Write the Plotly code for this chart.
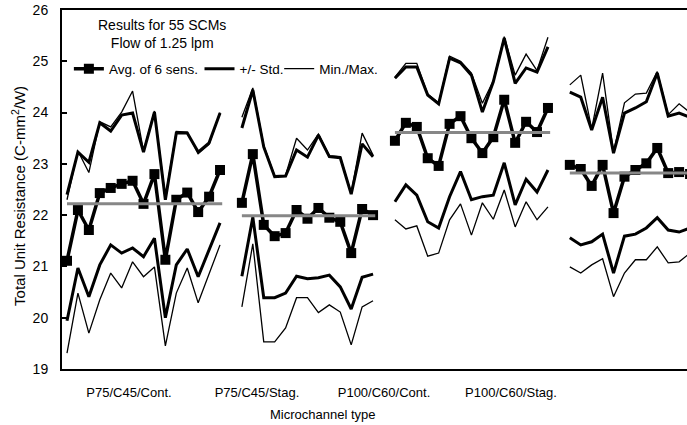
import plotly.graph_objects as go

# ---------------- data ----------------
group_labels = ["P75/C45/Cont.", "P75/C45/Stag.", "P100/C60/Cont.", "P100/C60/Stag."]

# P75/C45/Cont. (15 SCMs)
avg_g1 = [21.11, 22.10, 21.71, 22.43, 22.53, 22.61, 22.67, 22.22, 22.80, 21.13, 22.30, 22.44, 22.06, 22.36, 22.88]
std_hi_g1 = [22.40, 23.23, 23.03, 23.80, 23.64, 23.95, 23.99, 23.23, 24.01, 22.30, 23.60, 23.60, 23.23, 23.41, 23.99]
std_lo_g1 = [19.94, 20.97, 20.41, 21.03, 21.42, 21.26, 21.36, 21.19, 21.55, 20.00, 21.03, 21.34, 20.80, 21.32, 21.85]
max_g1 = [22.30, 23.25, 22.83, 23.82, 23.72, 24.01, 24.42, 23.25, 24.03, 22.35, 23.63, 23.62, 23.20, 23.38, 24.00]
min_g1 = [19.31, 20.48, 19.70, 20.35, 20.87, 20.58, 21.09, 20.80, 20.99, 19.45, 20.48, 20.97, 20.29, 20.84, 21.42]

# P75/C45/Stag. (13 SCMs)
avg_g2 = [22.24, 23.19, 21.81, 21.59, 21.65, 22.10, 21.93, 22.14, 21.95, 21.87, 21.26, 22.12, 22.00]
std_hi_g2 = [23.70, 24.44, 23.33, 22.75, 22.76, 23.27, 23.13, 23.56, 23.14, 23.12, 22.41, 23.39, 23.14]
std_lo_g2 = [20.81, 21.96, 20.39, 20.39, 20.48, 20.81, 20.76, 20.78, 20.83, 20.60, 20.17, 20.79, 20.85]
max_g2 = [23.91, 24.48, 23.36, 22.77, 22.78, 23.50, 23.27, 23.58, 23.16, 23.14, 22.43, 23.60, 23.17]
min_g2 = [20.21, 21.44, 19.53, 19.53, 19.80, 20.39, 20.39, 20.10, 20.25, 20.11, 19.47, 20.21, 20.33]

# P100/C60/Cont. (15 SCMs)
avg_g3 = [23.45, 23.80, 23.72, 23.11, 22.96, 23.78, 23.93, 23.50, 23.21, 23.52, 24.25, 23.41, 23.82, 23.62, 24.09]
std_hi_g3 = [24.67, 24.89, 24.89, 24.34, 24.17, 25.06, 24.97, 24.73, 24.01, 24.60, 25.45, 24.57, 24.87, 24.79, 25.28]
std_lo_g3 = [22.26, 22.59, 22.39, 21.87, 21.75, 22.36, 22.85, 22.30, 22.36, 22.39, 23.02, 22.20, 22.70, 22.45, 22.88]
max_g3 = [24.69, 24.96, 24.96, 24.36, 24.19, 25.10, 25.00, 24.77, 24.18, 24.62, 25.48, 24.73, 25.14, 24.82, 25.47]
min_g3 = [21.91, 21.73, 21.79, 21.20, 21.26, 21.91, 22.22, 21.61, 22.24, 21.92, 22.49, 21.77, 22.26, 21.91, 22.16]

# P100/C60/Stag. (12 SCMs)
avg_g4 = [22.98, 22.90, 22.57, 22.98, 22.04, 22.75, 22.88, 23.01, 23.31, 22.82, 22.84, 22.80]
std_hi_g4 = [24.40, 24.30, 23.66, 24.30, 23.21, 23.99, 24.09, 24.21, 24.77, 23.93, 23.99, 23.91]
std_lo_g4 = [21.56, 21.42, 21.48, 21.63, 20.87, 21.59, 21.63, 21.75, 21.95, 21.71, 21.67, 21.75]
max_g4 = [24.54, 24.73, 23.68, 24.77, 23.23, 24.19, 24.36, 24.38, 24.80, 23.96, 24.17, 24.00]
min_g4 = [20.99, 20.87, 21.03, 21.15, 20.41, 20.87, 21.13, 21.13, 21.38, 21.07, 21.09, 21.26]

# group mean of the averages (gray lines)
mean_groups = [22.22, 21.99, 23.61, 22.82]

# ---------------- build figure ----------------
group_start = [0, 16, 30, 46]   # sample index where each group starts (one empty slot between groups)


def concat(series):
    xs, ys = [], []
    for start, vals in zip(group_start, series):
        xs += [start + k for k in range(len(vals))] + [None]
        ys += list(vals) + [None]
    return xs, ys


FONT = "Liberation Sans, Arial, sans-serif"
fig = go.Figure()

thin = dict(color="black", width=1.3)
thick = dict(color="black", width=3)

x, y = concat([max_g1, max_g2, max_g3, max_g4])
fig.add_trace(go.Scatter(x=x, y=y, mode="lines", line=thin, name="Min./Max.",
                         legend="legend3"))
x, y = concat([min_g1, min_g2, min_g3, min_g4])
fig.add_trace(go.Scatter(x=x, y=y, mode="lines", line=thin, showlegend=False))

x, y = concat([std_hi_g1, std_hi_g2, std_hi_g3, std_hi_g4])
fig.add_trace(go.Scatter(x=x, y=y, mode="lines", line=thick, name="+/- Std.",
                         legend="legend2"))
x, y = concat([std_lo_g1, std_lo_g2, std_lo_g3, std_lo_g4])
fig.add_trace(go.Scatter(x=x, y=y, mode="lines", line=thick, showlegend=False))

x, y = concat([avg_g1, avg_g2, avg_g3, avg_g4])
fig.add_trace(go.Scatter(x=x, y=y, mode="lines+markers", name="Avg. of 6 sens.",
                         line=dict(color="black", width=3.5),
                         marker=dict(symbol="square", size=10, color="black"),
                         legend="legend"))

group_lens = [len(avg_g1), len(avg_g2), len(avg_g3), len(avg_g4)]
mx, my = [], []
for start, n, m in zip(group_start, group_lens, mean_groups):
    mx += [start, start + n - 1 + 0.2, None]
    my += [m, m, None]
fig.add_trace(go.Scatter(x=mx, y=my, mode="lines", line=dict(color="#878787", width=3),
                         showlegend=False))

leg_common = dict(orientation="h", y=0.836, xanchor="left", yanchor="middle",
                  font=dict(size=13.5, family=FONT), bgcolor="rgba(0,0,0,0)")

fig.update_layout(
    width=687, height=425,
    margin=dict(l=62, r=0, t=10, b=56),
    paper_bgcolor="white", plot_bgcolor="white",
    font=dict(family=FONT, color="black", size=13),
    showlegend=True,
    legend=dict(x=0.011, **leg_common),
    legend2=dict(x=0.220, **leg_common),
    legend3=dict(x=0.3475, **leg_common),
    xaxis=dict(range=[-0.457, 56.72], showgrid=False, zeroline=False,
               showline=True, linecolor="black", linewidth=2, mirror=True,
               ticks="", tickvals=[5.67, 17.38, 29.0, 40.62], ticktext=group_labels,
               tickfont=dict(size=13), ticklabelstandoff=10),
    yaxis=dict(range=[19, 26], dtick=1, showgrid=False, zeroline=False,
               showline=True, linecolor="black", linewidth=2, mirror=False,
               ticks="inside", ticklen=5, tickwidth=1.5, tickcolor="black",
               tickfont=dict(size=14), ticklabelstandoff=9),
    annotations=[
        dict(text="Results for 55 SCMs<br>Flow of 1.25 lpm", xref="paper", yref="paper",
             x=0.16, y=0.933, xanchor="center", yanchor="middle", showarrow=False,
             font=dict(size=14)),
        dict(text="Total Unit Resistance (C-mm<sup>2</sup>/W)", xref="paper", yref="paper",
             x=-0.0688, y=0.482, xanchor="center", yanchor="middle", showarrow=False,
             textangle=-90, font=dict(size=15)),
        dict(text="Microchannel type", xref="paper", yref="paper",
             x=0.4176, y=-0.128, xanchor="center", yanchor="middle", showarrow=False,
             font=dict(size=13)),
    ],
)

fig.write_html("out.html")
